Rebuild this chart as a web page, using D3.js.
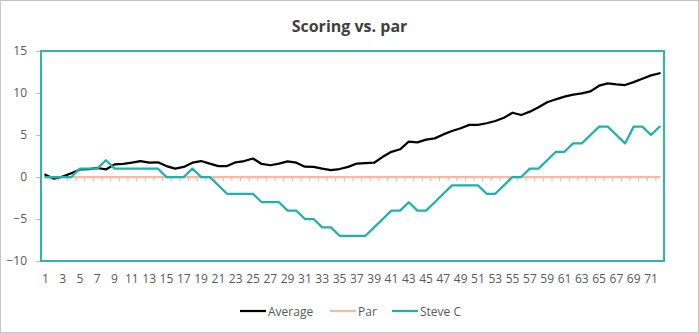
<!DOCTYPE html>
<html>
<head>
<meta charset="utf-8">
<script src="https://cdn.jsdelivr.net/npm/d3@7/dist/d3.min.js"></script>
<style>
  html, body { margin: 0; padding: 0; background: #fff; }
  svg { display: block; font-family: "Open Sans", "Noto Sans", sans-serif; }
</style>
</head>
<body>
<svg id="chart" width="699" height="333"></svg>
<script>
const categories = d3.range(1, 73);
const yTicks = [-10, -5, 0, 5, 10, 15];
const xLabels = categories.filter(d => d % 2 === 1);

const average = [0.27, -0.2, 0.04, 0.44, 0.9, 0.95, 1.07, 0.9, 1.5, 1.55,
  1.7, 1.9, 1.7, 1.75, 1.3, 1.0, 1.2, 1.7, 1.9, 1.6,
  1.3, 1.3, 1.75, 1.9, 2.2, 1.55, 1.4, 1.6, 1.87, 1.7,
  1.23, 1.2, 1.0, 0.83, 0.95, 1.2, 1.6, 1.65, 1.7, 2.4,
  3.0, 3.3, 4.2, 4.13, 4.45, 4.6, 5.07, 5.48, 5.8, 6.2,
  6.2, 6.4, 6.67, 7.06, 7.65, 7.38, 7.78, 8.3, 8.9, 9.25,
  9.56, 9.8, 9.96, 10.2, 10.87, 11.15, 11.03, 10.95, 11.3, 11.7,
  12.1, 12.35];
const par = categories.map(() => 0);
const steveC = [0, 0, 0, 0, 1, 1, 1, 2, 1, 1,
  1, 1, 1, 1, 0, 0, 0, 1, 0, 0,
  -1, -2, -2, -2, -2, -3, -3, -3, -4, -4,
  -5, -5, -6, -6, -7, -7, -7, -7, -6, -5,
  -4, -4, -3, -4, -4, -3, -2, -1, -1, -1,
  -1, -2, -2, -1, 0, 0, 1, 1, 2, 3,
  3, 4, 4, 5, 6, 6, 5, 4, 6, 6,
  5, 6];

const seriesNames = ["Average", "Par", "Steve C"];
const seriesData = [average, par, steveC];
const seriesColors = ["#000000", "#f7b9a4", "#1fb1ab"];

const W = 699, H = 333;
const plot = { left: 41, right: 664, top: 51, bottom: 261 };

const svg = d3.select("#chart");

// outer border
svg.append("rect").attr("x", 0.5).attr("y", 0.5).attr("width", W - 1).attr("height", H - 1)
  .attr("fill", "#fff").attr("stroke", "#c4c4c4");

// title
svg.append("text").attr("x", W / 2).attr("y", 32).attr("text-anchor", "middle")
  .attr("font-size", 16).attr("font-weight", 700).attr("fill", "#404040")
  .text("Scoring vs. par");

const x = d3.scaleBand().domain(categories).range([plot.left, plot.right]).padding(0);
const xb = d3.scaleLinear().domain([0, categories.length]).range([plot.left, plot.right]);
const y = d3.scaleLinear().domain([-10, 15]).range([plot.bottom, plot.top]);

// y axis ticks and labels
const yAxis = svg.append("g").attr("transform", `translate(${plot.left},0)`)
  .call(d3.axisLeft(y).tickValues(yTicks).tickSize(5).tickPadding(9));
yAxis.select(".domain").remove();
yAxis.selectAll(".tick line").attr("stroke", "#bfbfbf");
yAxis.selectAll(".tick text").attr("font-size", 12).attr("fill", "#595959")
  .attr("font-family", "\"Open Sans\", sans-serif");

// category tick marks at zero line
const xTickAxis = svg.append("g").attr("transform", `translate(0,${y(0)})`)
  .call(d3.axisBottom(xb).tickValues(d3.range(categories.length + 1)).tickFormat("").tickSize(4));
xTickAxis.select(".domain").remove();
xTickAxis.selectAll(".tick line").attr("stroke", "#bfbfbf");

// category labels
const xAxis = svg.append("g").attr("transform", `translate(0,${plot.bottom})`)
  .call(d3.axisBottom(x).tickValues(xLabels).tickSize(0).tickPadding(13));
xAxis.select(".domain").remove();
xAxis.selectAll(".tick text").attr("font-size", 12).attr("fill", "#595959")
  .attr("font-family", "\"Open Sans\", sans-serif");

// plot area border
svg.append("rect").attr("x", plot.left).attr("y", plot.top)
  .attr("width", plot.right - plot.left).attr("height", plot.bottom - plot.top)
  .attr("fill", "none").attr("stroke", "#2db5b0").attr("stroke-width", 2);

// lines
const line = d3.line()
  .x((d, i) => x(categories[i]) + x.bandwidth() / 2)
  .y(d => y(d));

seriesData.forEach((data, k) => {
  svg.append("path").datum(data)
    .attr("fill", "none")
    .attr("stroke", seriesColors[k])
    .attr("stroke-width", 2.25)
    .attr("stroke-linejoin", "round")
    .attr("stroke-linecap", "round")
    .attr("d", line);
});

// legend
const legendItems = [
  { name: seriesNames[0], color: seriesColors[0], x0: 240 },
  { name: seriesNames[1], color: seriesColors[1], x0: 330 },
  { name: seriesNames[2], color: seriesColors[2], x0: 392 }
];
const ly = 311;
const lg = svg.append("g");
legendItems.forEach(it => {
  lg.append("line").attr("x1", it.x0).attr("x2", it.x0 + 26).attr("y1", ly).attr("y2", ly)
    .attr("stroke", it.color).attr("stroke-width", 2.25);
  lg.append("text").attr("x", it.x0 + 28).attr("y", ly + 4.5)
    .attr("font-size", 12).attr("fill", "#595959").text(it.name);
});
</script>
</body>
</html>
